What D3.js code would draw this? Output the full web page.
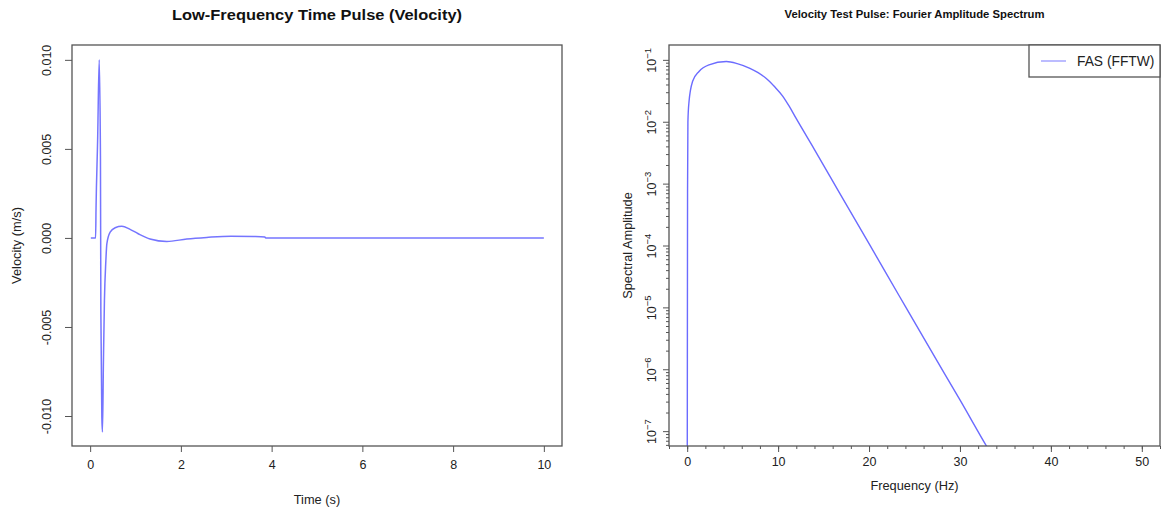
<!DOCTYPE html>
<html>
<head>
<meta charset="utf-8">
<script src="https://cdn.jsdelivr.net/npm/d3@7"></script>
<style>
  body { margin: 0; background: #fff; }
  svg { display: block; font-family: "Liberation Sans", Arial, sans-serif; }
  .axis path, .axis line { stroke: #555; }
  .axis text { fill: #222; }
</style>
</head>
<body>
<svg id="chart" width="1161" height="514"></svg>
<script>
// time pulse (velocity)
var timeS = [0.015, 0.12, 0.13, 0.165, 0.2, 0.227, 0.236, 0.258, 0.271, 0.293, 0.315, 0.346, 0.368,
             0.441, 0.551, 0.699, 0.88, 1.05, 1.32, 1.69, 2.13, 2.57, 3.1, 3.6, 3.85, 3.87, 10];
var velocity = [0, 0, 0.0017, 0.0055, 0.0100, 0.0046, -0.0041, -0.0101, -0.0109, -0.0069, -0.0035, -0.0013, -0.00033,
                0.00033, 0.00057, 0.00065, 0.00048, 0.00025, -0.00006, -0.0002, -0.00006, 0.00003, 0.0001, 0.00008, 0.00005, 0, 0];
var timeTicks = [0, 2, 4, 6, 8, 10];
var velTicks = [-0.010, -0.005, 0.000, 0.005, 0.010];

// fourier amplitude spectrum
var freqHz = [0, 0.02, 0.04, 0.08, 0.2, 0.6, 1.3, 2.4, 4.3, 5.5, 6.9, 7.8, 8.7, 9.6, 10.5, 11.2, 12.0, 14.0,
              16.75, 20.0, 23.36, 27.0, 30.0, 32.9, 34.0];
var fasAmp = [1e-9, 1.5e-6, 7e-4, 1e-2, 2.1e-2, 4.5e-2, 6.5e-2, 8.3e-2, 9.4e-2, 8.7e-2, 7.3e-2, 6.2e-2, 5.0e-2, 3.7e-2,
              2.6e-2, 1.8e-2, 1.12e-2, 3.55e-3, 7.1e-4, 1.07e-4, 1.5e-5, 1.8e-6, 3.2e-7, 5.8e-8, 3.1e-8];
var freqTicks = [0, 10, 20, 30, 40, 50];
var freqMinor = d3.range(-2, 53, 2);
var ampDecades = [-7, -6, -5, -4, -3, -2, -1];

var svg = d3.select("#chart");
var lineCol = "#3a3aff";

// ---------- left panel ----------
var L = { left: 72, right: 562, top: 45, bottom: 446 };
var xL = d3.scaleLinear().domain([-0.4, 10.4]).range([L.left, L.right]);
var yL = d3.scaleLinear().domain([-0.011684, 0.010834]).range([L.bottom, L.top]);

svg.append("text").attr("x", (L.left + L.right) / 2).attr("y", 20)
    .attr("text-anchor", "middle").style("font-weight", "bold").style("font-size", "14.5px")
    .attr("textLength", 290).attr("lengthAdjust", "spacingAndGlyphs")
    .attr("fill", "#111").text("Low-Frequency Time Pulse (Velocity)");

var gxL = svg.append("g").attr("class", "axis")
    .attr("transform", "translate(0," + L.bottom + ")")
    .call(d3.axisBottom(xL).tickValues(timeTicks).tickSize(6).tickPadding(8).tickSizeOuter(0));
gxL.select(".domain").remove();
gxL.selectAll("text").style("font-size", "12.5px");

var gyL = svg.append("g").attr("class", "axis")
    .attr("transform", "translate(" + L.left + ",0)")
    .call(d3.axisLeft(yL).tickValues(velTicks).tickSize(7));
gyL.select(".domain").remove();
gyL.selectAll(".tick text")
    .attr("x", null)
    .attr("text-anchor", "middle")
    .attr("transform", "translate(-25,0) rotate(-90)")
    .attr("dy", "0.35em")
    .style("font-size", "12.5px")
    .text(function(d) { return d3.format(".3f")(d).replace("−", "-"); });

svg.append("rect").attr("x", L.left).attr("y", L.top)
    .attr("width", L.right - L.left).attr("height", L.bottom - L.top)
    .attr("fill", "none").attr("stroke", "#555").attr("stroke-width", 1.3);

svg.append("text").attr("x", (L.left + L.right) / 2).attr("y", 504)
    .attr("text-anchor", "middle").style("font-size", "12.8px").attr("fill", "#222").text("Time (s)");
svg.append("text").attr("transform", "translate(17," + ((L.top + L.bottom) / 2) + ") rotate(-90)")
    .attr("text-anchor", "middle").attr("dy", "0.35em").style("font-size", "12.8px").attr("fill", "#222")
    .text("Velocity (m/s)");

var velData = timeS.map(function(t, i) { return [t, velocity[i]]; });
svg.append("path").datum(velData)
    .attr("fill", "none").attr("stroke", lineCol).attr("stroke-opacity", 0.7).attr("stroke-width", 1.5)
    .attr("d", d3.line().x(function(d) { return xL(d[0]); }).y(function(d) { return yL(d[1]); })
        .curve(d3.curveMonotoneX));

// ---------- right panel ----------
var R = { left: 669, right: 1160, top: 45, bottom: 446 };
var xR = d3.scaleLinear().domain([-2, 52]).range([R.left, R.right]);
var yR = d3.scaleLog().domain([Math.pow(10, -7.24), Math.pow(10, -0.76)]).range([R.bottom, R.top]);

svg.append("text").attr("x", (R.left + R.right) / 2).attr("y", 18)
    .attr("text-anchor", "middle").style("font-weight", "bold").style("font-size", "10px")
    .attr("textLength", 260).attr("lengthAdjust", "spacingAndGlyphs")
    .attr("fill", "#111").text("Velocity Test Pulse: Fourier Amplitude Spectrum");

svg.append("defs").append("clipPath").attr("id", "clipR")
    .append("rect").attr("x", R.left).attr("y", R.top)
    .attr("width", R.right - R.left).attr("height", R.bottom - R.top);

// minor x ticks every 2 Hz
var gxRm = svg.append("g").attr("class", "axis")
    .attr("transform", "translate(0," + R.bottom + ")")
    .call(d3.axisBottom(xR).tickValues(freqMinor).tickSize(3).tickFormat(""));
gxRm.select(".domain").remove();
var gxR = svg.append("g").attr("class", "axis")
    .attr("transform", "translate(0," + R.bottom + ")")
    .call(d3.axisBottom(xR).tickValues(freqTicks).tickSize(6).tickPadding(5));
gxR.select(".domain").remove();
gxR.selectAll("text").style("font-size", "12.5px");

// log y ticks
var minorAmp = [];
ampDecades.concat([-8]).forEach(function(e) {
    for (var k = 2; k <= 9; k++) {
        var v = k * Math.pow(10, e);
        if (v >= yR.domain()[0] && v <= yR.domain()[1]) minorAmp.push(v);
    }
});
var gyRm = svg.append("g").attr("class", "axis")
    .attr("transform", "translate(" + R.left + ",0)")
    .call(d3.axisLeft(yR).tickValues(minorAmp).tickSize(3).tickFormat(""));
gyRm.select(".domain").remove();
var gyR = svg.append("g").attr("class", "axis")
    .attr("transform", "translate(" + R.left + ",0)")
    .call(d3.axisLeft(yR).tickValues(ampDecades.map(function(e) { return Math.pow(10, e); })).tickSize(6));
gyR.select(".domain").remove();
gyR.selectAll(".tick text").each(function(d) {
    var t = d3.select(this);
    var e = Math.round(Math.log10(d));
    t.text(null).attr("x", null).attr("dy", null)
        .attr("text-anchor", "middle")
        .attr("transform", "translate(-13,0) rotate(-90)")
        .style("font-size", "12.5px");
    t.append("tspan").text("10");
    t.append("tspan").attr("dy", "-0.55em").style("font-size", "9.5px").text("−" + Math.abs(e));
});

svg.append("text").attr("x", (R.left + R.right) / 2).attr("y", 490)
    .attr("text-anchor", "middle").style("font-size", "12.8px").attr("fill", "#222").text("Frequency (Hz)");
svg.append("text").attr("transform", "translate(628," + ((R.top + R.bottom) / 2) + ") rotate(-90)")
    .attr("text-anchor", "middle").attr("dy", "0.35em").style("font-size", "12.8px").attr("fill", "#222")
    .text("Spectral Amplitude");

var fasData = freqHz.map(function(f, i) { return [f, fasAmp[i]]; });
svg.append("path").datum(fasData).attr("clip-path", "url(#clipR)")
    .attr("fill", "none").attr("stroke", lineCol).attr("stroke-opacity", 0.75).attr("stroke-width", 1.4)
    .attr("d", d3.line().x(function(d) { return xR(d[0]); }).y(function(d) { return yR(d[1]); })
        .curve(d3.curveMonotoneX));

svg.append("rect").attr("x", R.left).attr("y", R.top)
    .attr("width", R.right - R.left).attr("height", R.bottom - R.top)
    .attr("fill", "none").attr("stroke", "#555").attr("stroke-width", 1.3);

// legend
var leg = svg.append("g");
leg.append("rect").attr("x", 1029).attr("y", R.top).attr("width", R.right - 1029).attr("height", 32)
    .attr("fill", "#fff").attr("stroke", "#555").attr("stroke-width", 1.3);
leg.append("line").attr("x1", 1041).attr("x2", 1066).attr("y1", 61).attr("y2", 61)
    .attr("stroke", lineCol).attr("stroke-opacity", 0.45).attr("stroke-width", 1.5);
leg.append("text").attr("x", 1077).attr("y", 61).attr("dy", "0.35em")
    .style("font-size", "13.8px").attr("fill", "#222").text("FAS (FFTW)");
</script>
</body>
</html>
